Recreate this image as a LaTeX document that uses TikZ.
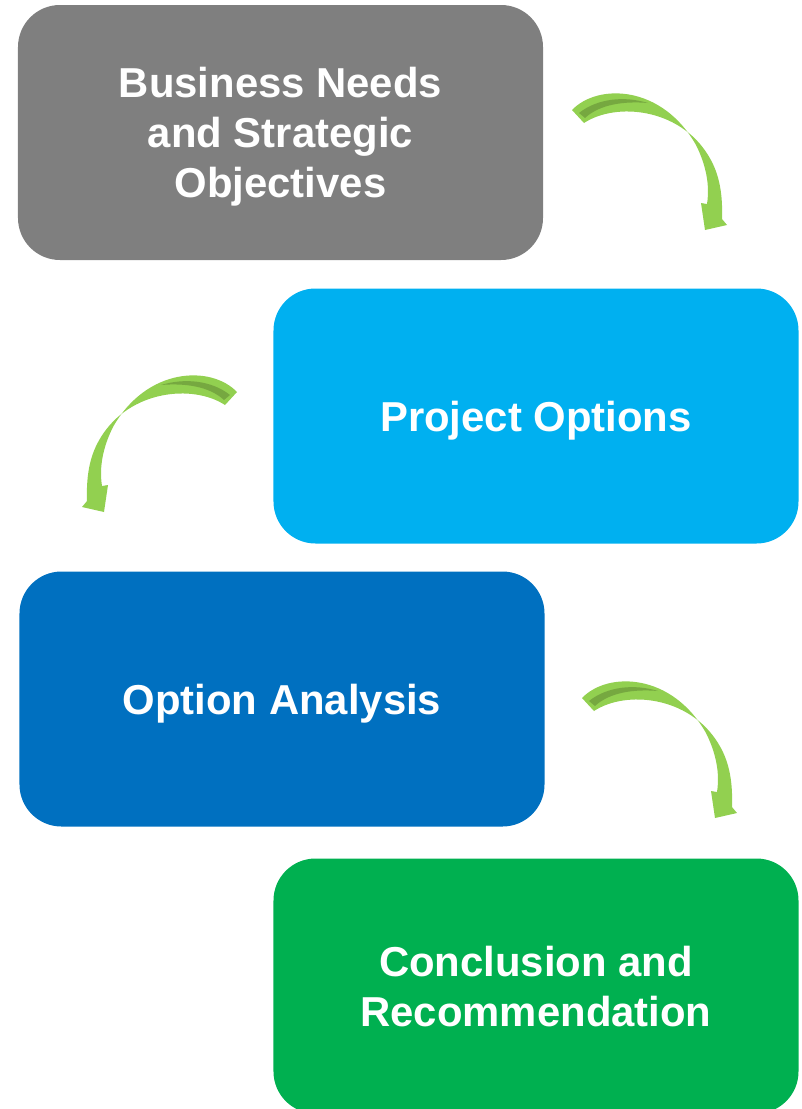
\documentclass[tikz,border=0pt]{standalone}
\usepackage{fontspec}
\setmainfont{Liberation Sans}
\usepackage{tikz}
\usetikzlibrary{positioning}
\definecolor{gris}{HTML}{7F7F7F}
\definecolor{celeste}{HTML}{00B0F0}
\definecolor{azul}{HTML}{0070C0}
\definecolor{verde}{HTML}{00B050}
\definecolor{flecha}{HTML}{92D050}
\definecolor{flechaosc}{HTML}{76A840}
\tikzset{
	x=1bp, y=-1bp, % Unidades en puntos, eje y hacia abajo
	etapa/.style={rounded corners=42bp, minimum width=525bp, minimum height=255bp,
		inner sep=0pt, text=white, align=center, text depth=0pt,
		font=\fontsize{42}{50}\selectfont\bfseries}, % Cajas de cada etapa
	pics/curva/.style={code={ % Flecha curva entre etapas
		\fill[flecha] (-78,-50) .. controls (-52,-77) and (12,-75) .. (46,-15)
			.. controls (56,5) and (60,25) .. (57,44) -- (51,43) -- (55,70) -- (77,65) -- (72,59)
			.. controls (73,30) and (68,11) .. (58,-5)
			.. controls (29,-52) and (-34,-58) .. (-66,-37) -- cycle;
		\fill[flechaosc] (-71,-47) .. controls (-52,-62) and (-25,-64) .. (-2,-57)
			.. controls (-25,-59) and (-50,-56) .. (-65,-42) -- cycle;
	}}
}

\begin{document}
\begin{tikzpicture}
				\useasboundingbox (0,0) rectangle (802,1109);
				\node[etapa, fill=gris] (negocio) at (280.5,132.5) {Business Needs\\and Strategic\\Objectives};
				\node[etapa, fill=celeste] (opciones) at (536,416) {Project Options};
				\node[etapa, fill=azul] (analisis) at (282,699) {Option Analysis};
				\node[etapa, fill=verde] (conclusion) at (536,986) {Conclusion and\\Recommendation};
				\coordinate (c1) at (650,160);
				\coordinate (c2) at (159,442);
				\coordinate (c3) at (660,748);
				\pic at (c1) {curva};
				\pic[xscale=-1] at (c2) {curva};
				\pic at (c3) {curva};
			\end{tikzpicture}
\end{document}
